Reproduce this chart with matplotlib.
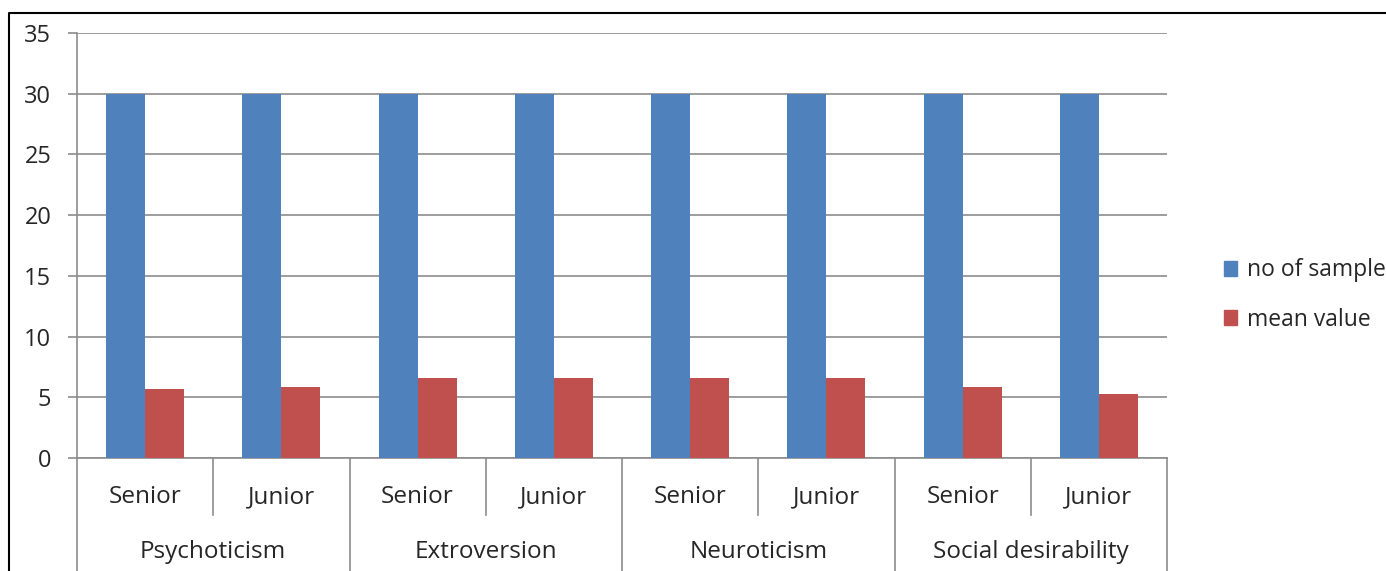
"""Grouped bar chart: sample size and mean value per trait and seniority."""

import matplotlib
matplotlib.use("Agg")
import matplotlib.pyplot as plt
import matplotlib.transforms as mtransforms
from matplotlib.lines import Line2D
from matplotlib.patches import Patch
import numpy as np

plt.rcParams["font.family"] = ["Open Sans", "DejaVu Sans"]

GROUPS = ["Psychoticism", "Extroversion", "Neuroticism", "Social desirability"]
LEVELS = ["Senior", "Junior"]
NO_OF_SAMPLE = [30, 30, 30, 30, 30, 30, 30, 30]
MEAN_VALUE = [5.67, 5.86, 6.55, 6.55, 6.55, 6.55, 5.86, 5.3]
Y_TICKS = [0, 5, 10, 15, 20, 25, 30, 35]

BLUE = "#4F81BD"
RED = "#C0504D"
GRID = "#8C8C8C"
TEXT = "#262626"
FS = 17.5

W, H = 1386, 571
fig = plt.figure(figsize=(W / 100, H / 100), dpi=100)
ax = fig.add_axes([77 / W, 1 - 458 / H, (1167 - 77) / W, (458 - 33) / H])

x = np.arange(len(NO_OF_SAMPLE))
bw = 1 / 3.5
ax.bar(x - bw / 2, NO_OF_SAMPLE, width=bw, color=BLUE, zorder=3)
ax.bar(x + bw / 2, MEAN_VALUE, width=bw, color=RED, zorder=3)

ax.set_xlim(-0.5, len(x) - 0.5)
ax.set_ylim(0, 35)
ax.set_yticks(Y_TICKS)
ax.set_yticklabels([str(t) for t in Y_TICKS], fontsize=17, color=TEXT)
ax.tick_params(axis="y", length=6.5, width=1.2, color=GRID, pad=12)
ax.set_xticks([])
ax.grid(axis="y", color=GRID, linewidth=1.2, zorder=0)
for side in ["top", "right"]:
    ax.spines[side].set_visible(False)
for side in ["left", "bottom"]:
    ax.spines[side].set_color(GRID)
    ax.spines[side].set_linewidth(1.2)

# two-level category axis below the plot
trans = mtransforms.blended_transform_factory(ax.transData, ax.transAxes)
ax_h = 458 - 33
short_y = -(515 - 458) / ax_h
long_y = -(H - 458) / ax_h
for i in range(len(x) + 1):
    pos = i - 0.5
    bottom = long_y if i % 2 == 0 else short_y
    ax.add_line(Line2D([pos, pos], [0, bottom], transform=trans, color=GRID,
                       linewidth=1.2, clip_on=False))
for i in range(len(x)):
    ax.text(i, -(497 - 458) / ax_h, LEVELS[i % 2], transform=trans,
            ha="center", va="center", fontsize=FS, color=TEXT)
for g, name in enumerate(GROUPS):
    ax.text(2 * g + 0.5, -(552 - 458) / ax_h, name, transform=trans,
            ha="center", va="center", fontsize=FS, color=TEXT)

handles = [Patch(color=BLUE, label="no of sample"),
           Patch(color=RED, label="mean value")]
fig.legend(handles=handles, loc="center left",
           bbox_to_anchor=(1203 / W, 1 - 295 / H), frameon=False,
           fontsize=16.5, handlelength=0.6, handleheight=0.6,
           handletextpad=0.4, labelspacing=1.1, labelcolor=TEXT)

# chart frame (only top and left edges are visible)
fig.add_artist(Line2D([9 / W, 9 / W, 1], [0, 1 - 13 / H, 1 - 13 / H],
                      transform=fig.transFigure, color="black", linewidth=1.5))

fig.savefig("out.png", dpi=100)
